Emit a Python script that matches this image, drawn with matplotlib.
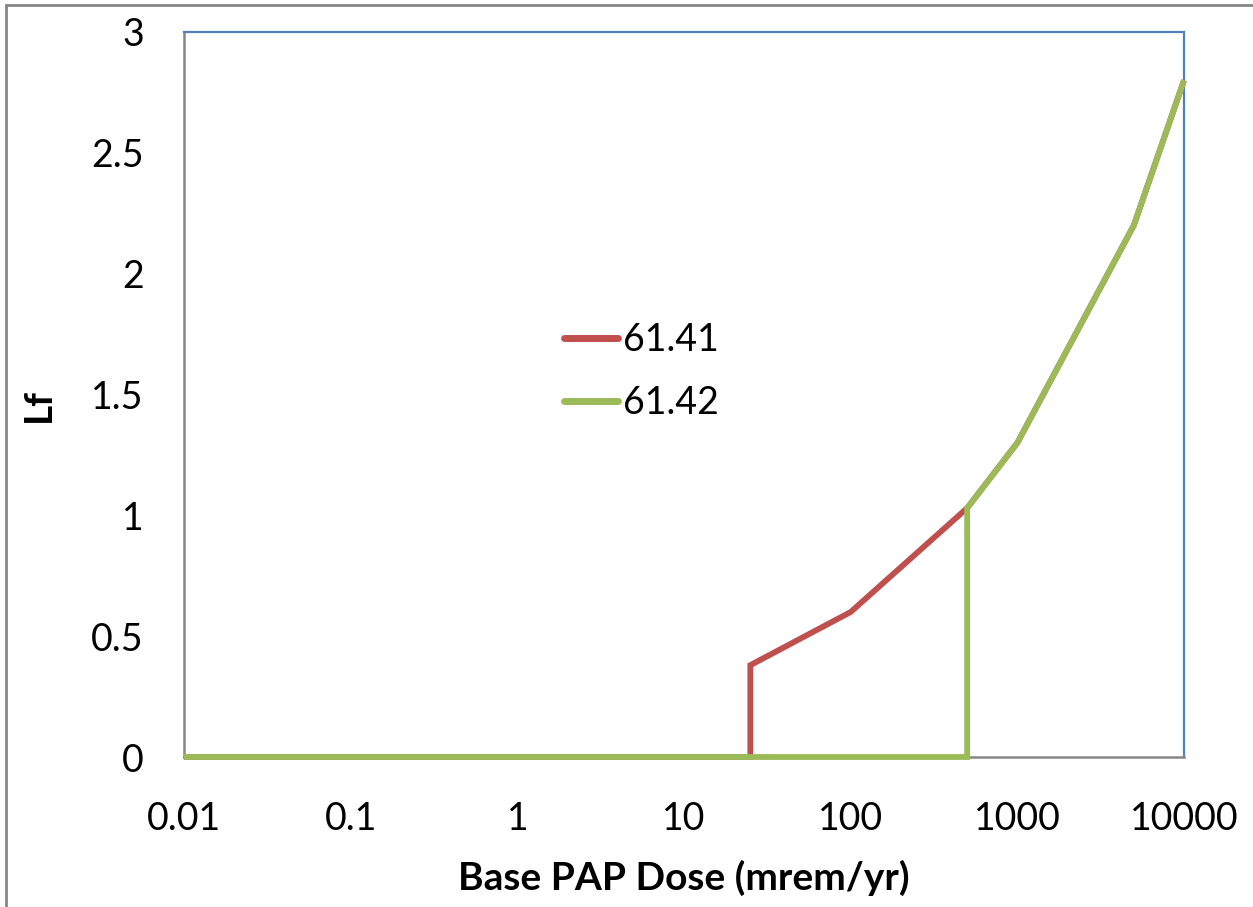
import matplotlib
matplotlib.use("Agg")
import matplotlib.pyplot as plt
from matplotlib.patches import Rectangle

dose_6141 = [0.01, 25, 25, 100, 500, 1000, 5000, 10000]
lf_6141 = [0, 0, 0.38, 0.6, 1.03, 1.3, 2.2, 2.8]
dose_6142 = [0.01, 500, 500, 1000, 5000, 10000]
lf_6142 = [0, 0, 1.03, 1.3, 2.2, 2.8]
labels = ["61.41", "61.42"]
xticks = [0.01, 0.1, 1, 10, 100, 1000, 10000]
xticklabels = ["0.01", "0.1", "1", "10", "100", "1000", "10000"]
yticks = [0, 0.5, 1, 1.5, 2, 2.5, 3]
yticklabels = ["0", "0.5", "1", "1.5", "2", "2.5", "3"]

plt.rcParams['font.family'] = ['Lato', 'DejaVu Sans']

fig = plt.figure(figsize=(12.53, 9.07), dpi=100)
W, H = 1253, 907
ax = fig.add_axes([184 / W, 1 - 757 / H, 1000 / W, 725 / H])

ax.plot(dose_6141, lf_6141, color='#C0504D', lw=4.2, label=labels[0],
        clip_on=False, zorder=5, solid_capstyle='butt', solid_joinstyle='miter')
ax.plot(dose_6142, lf_6142, color='#9BBB59', lw=4.2, label=labels[1],
        clip_on=False, zorder=6, solid_capstyle='butt', solid_joinstyle='miter')

ax.set_xscale('log')
ax.set_xlim(0.01, 10000)
ax.set_ylim(0, 3)
ax.set_xticks(xticks)
ax.set_xticklabels(xticklabels)
ax.minorticks_off()
ax.set_yticks(yticks)
ax.set_yticklabels(yticklabels)
ax.tick_params(axis='both', length=0, labelsize=27)
ax.tick_params(axis='x', pad=32)
ax.tick_params(axis='y', pad=29)

for s in ['top', 'right']:
    ax.spines[s].set_color('#4F81BD')
    ax.spines[s].set_linewidth(1.6)
for s in ['left', 'bottom']:
    ax.spines[s].set_color('#868686')
    ax.spines[s].set_linewidth(1.8)

ax.set_xlabel('Base PAP Dose (mrem/yr)', fontsize=28, fontweight='bold', labelpad=16)
ax.set_ylabel('Lf', fontsize=28, fontweight='bold')
ax.yaxis.set_label_coords(-0.128, 0.485)

leg = ax.legend(loc='upper left', bbox_to_anchor=(530 / W, 1 - 288 / H),
                bbox_transform=fig.transFigure, frameon=False, fontsize=27,
                handlelength=1.45, handletextpad=0.12, labelspacing=0.72)
for h in leg.get_lines():
    h.set_linewidth(5)
    h.set_solid_capstyle('round')

fig.patches.append(Rectangle((6 / W, -0.1), 1.2, (1 - 5 / H) + 0.1,
                             transform=fig.transFigure, fill=False,
                             edgecolor='#868686', lw=2))

fig.savefig('out.png', dpi=100)
